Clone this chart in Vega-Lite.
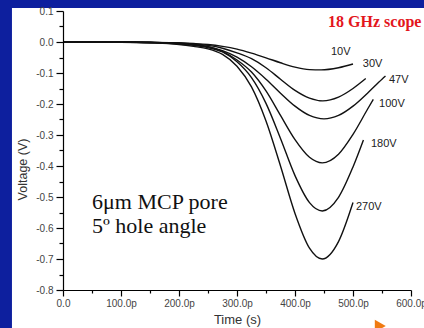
{
  "$schema": "https://vega.github.io/schema/vega-lite/v6.json",
  "width": 348,
  "height": 279,
  "autosize": {"type": "none"},
  "padding": {"left": 63, "top": 11, "right": 13, "bottom": 38},
  "background": "#0d1f9e",
  "config": {"view": {"stroke": null, "fill": "white"}},
  "datasets": {
    "panel": [{"t": -88, "t2": 650, "v": 0.11, "v2": -0.95}],
    "curves": [
      {"s": "10V", "t": 0, "v": 0}, {"s": "10V", "t": 100, "v": 0}, {"s": "10V", "t": 150, "v": -0.001}, {"s": "10V", "t": 200, "v": -0.003}, {"s": "10V", "t": 225, "v": -0.005}, {"s": "10V", "t": 250, "v": -0.008}, {"s": "10V", "t": 275, "v": -0.014}, {"s": "10V", "t": 300, "v": -0.023}, {"s": "10V", "t": 325, "v": -0.036}, {"s": "10V", "t": 350, "v": -0.051}, {"s": "10V", "t": 375, "v": -0.067}, {"s": "10V", "t": 400, "v": -0.081}, {"s": "10V", "t": 425, "v": -0.089}, {"s": "10V", "t": 445, "v": -0.09}, {"s": "10V", "t": 475, "v": -0.083}, {"s": "10V", "t": 500, "v": -0.071},
      {"s": "30V", "t": 0, "v": 0}, {"s": "30V", "t": 100, "v": 0}, {"s": "30V", "t": 150, "v": -0.001}, {"s": "30V", "t": 200, "v": -0.003}, {"s": "30V", "t": 225, "v": -0.006}, {"s": "30V", "t": 250, "v": -0.011}, {"s": "30V", "t": 275, "v": -0.02}, {"s": "30V", "t": 300, "v": -0.035}, {"s": "30V", "t": 325, "v": -0.054}, {"s": "30V", "t": 350, "v": -0.083}, {"s": "30V", "t": 375, "v": -0.12}, {"s": "30V", "t": 400, "v": -0.156}, {"s": "30V", "t": 425, "v": -0.181}, {"s": "30V", "t": 448, "v": -0.19}, {"s": "30V", "t": 475, "v": -0.178}, {"s": "30V", "t": 500, "v": -0.15}, {"s": "30V", "t": 522, "v": -0.118},
      {"s": "47V", "t": 0, "v": 0}, {"s": "47V", "t": 100, "v": 0}, {"s": "47V", "t": 150, "v": -0.001}, {"s": "47V", "t": 200, "v": -0.004}, {"s": "47V", "t": 225, "v": -0.008}, {"s": "47V", "t": 250, "v": -0.015}, {"s": "47V", "t": 275, "v": -0.028}, {"s": "47V", "t": 300, "v": -0.049}, {"s": "47V", "t": 325, "v": -0.08}, {"s": "47V", "t": 350, "v": -0.12}, {"s": "47V", "t": 375, "v": -0.165}, {"s": "47V", "t": 400, "v": -0.207}, {"s": "47V", "t": 425, "v": -0.237}, {"s": "47V", "t": 450, "v": -0.248}, {"s": "47V", "t": 475, "v": -0.237}, {"s": "47V", "t": 500, "v": -0.207}, {"s": "47V", "t": 525, "v": -0.165}, {"s": "47V", "t": 550, "v": -0.12}, {"s": "47V", "t": 556, "v": -0.11},
      {"s": "100V", "t": 0, "v": 0}, {"s": "100V", "t": 100, "v": 0}, {"s": "100V", "t": 150, "v": -0.002}, {"s": "100V", "t": 200, "v": -0.005}, {"s": "100V", "t": 225, "v": -0.009}, {"s": "100V", "t": 250, "v": -0.015}, {"s": "100V", "t": 275, "v": -0.03}, {"s": "100V", "t": 300, "v": -0.058}, {"s": "100V", "t": 325, "v": -0.097}, {"s": "100V", "t": 350, "v": -0.158}, {"s": "100V", "t": 375, "v": -0.237}, {"s": "100V", "t": 400, "v": -0.315}, {"s": "100V", "t": 425, "v": -0.372}, {"s": "100V", "t": 447, "v": -0.39}, {"s": "100V", "t": 475, "v": -0.362}, {"s": "100V", "t": 500, "v": -0.298}, {"s": "100V", "t": 525, "v": -0.217}, {"s": "100V", "t": 535, "v": -0.185},
      {"s": "180V", "t": 0, "v": 0}, {"s": "180V", "t": 100, "v": -0.001}, {"s": "180V", "t": 150, "v": -0.002}, {"s": "180V", "t": 200, "v": -0.007}, {"s": "180V", "t": 225, "v": -0.011}, {"s": "180V", "t": 250, "v": -0.018}, {"s": "180V", "t": 275, "v": -0.032}, {"s": "180V", "t": 300, "v": -0.064}, {"s": "180V", "t": 325, "v": -0.115}, {"s": "180V", "t": 350, "v": -0.198}, {"s": "180V", "t": 375, "v": -0.311}, {"s": "180V", "t": 400, "v": -0.431}, {"s": "180V", "t": 425, "v": -0.518}, {"s": "180V", "t": 447, "v": -0.545}, {"s": "180V", "t": 475, "v": -0.501}, {"s": "180V", "t": 500, "v": -0.403}, {"s": "180V", "t": 518, "v": -0.316},
      {"s": "270V", "t": 0, "v": 0}, {"s": "270V", "t": 100, "v": -0.001}, {"s": "270V", "t": 150, "v": -0.003}, {"s": "270V", "t": 200, "v": -0.008}, {"s": "270V", "t": 225, "v": -0.014}, {"s": "270V", "t": 250, "v": -0.022}, {"s": "270V", "t": 275, "v": -0.04}, {"s": "270V", "t": 300, "v": -0.078}, {"s": "270V", "t": 325, "v": -0.145}, {"s": "270V", "t": 350, "v": -0.255}, {"s": "270V", "t": 375, "v": -0.4}, {"s": "270V", "t": 400, "v": -0.553}, {"s": "270V", "t": 425, "v": -0.665}, {"s": "270V", "t": 447, "v": -0.7}, {"s": "270V", "t": 475, "v": -0.644}, {"s": "270V", "t": 500, "v": -0.518}
    ],
    "labels": [
      {"t": 462, "v": -0.032, "label": "10V"},
      {"t": 517, "v": -0.071, "label": "30V"},
      {"t": 562, "v": -0.123, "label": "47V"},
      {"t": 545, "v": -0.2, "label": "100V"},
      {"t": 531, "v": -0.33, "label": "180V"},
      {"t": 505, "v": -0.532, "label": "270V"}
    ],
    "scope": [{"t": 457, "v": 0.064, "label": "18 GHz scope"}],
    "notes": [
      {"t": 50, "v": -0.516, "label": "6μm MCP pore"},
      {"t": 50, "v": -0.594, "label": "5º hole angle"}
    ],
    "arrow": [{"t": 547, "v": -0.916}]
  },
  "encoding": {
    "x": {
      "field": "t", "type": "quantitative",
      "scale": {"domain": [0, 600], "nice": false, "zero": false},
      "axis": {
        "title": "Time (s)", "zindex": 1, "grid": false,
        "values": [0, 50, 100, 150, 200, 250, 300, 350, 400, 450, 500, 550, 600],
        "labelExpr": "datum.value % 100 == 0 ? (datum.value == 0 ? '0.0' : format(datum.value, '.1f') + 'p') : ''",
        "tickSize": {"condition": {"test": "datum.value % 100 == 0", "value": 6}, "value": 3},
        "domainColor": "#000", "tickColor": "#000", "domainWidth": 1.2, "tickWidth": 1.2,
        "labelFont": "Liberation Sans", "labelFontSize": 10, "labelColor": "#444", "labelPadding": 2,
        "labelOverlap": false, "labelFlush": false, "labelBound": false,
        "titleFont": "Liberation Sans", "titleFontSize": 13, "titleFontWeight": "normal", "titleColor": "#333", "titlePadding": 5
      }
    },
    "y": {
      "field": "v", "type": "quantitative",
      "scale": {"domain": [-0.8, 0.1], "nice": false, "zero": false},
      "axis": {
        "title": "Voltage (V)", "zindex": 1, "grid": false,
        "values": [0.1, 0.05, 0, -0.05, -0.1, -0.15, -0.2, -0.25, -0.3, -0.35, -0.4, -0.45, -0.5, -0.55, -0.6, -0.65, -0.7, -0.75, -0.8],
        "labelExpr": "abs(datum.value * 10 - round(datum.value * 10)) < 0.01 ? (datum.value < -0.001 ? '-' + format(-datum.value, '.1f') : format(abs(datum.value), '.1f')) : ''",
        "tickSize": {"condition": {"test": "abs(datum.value * 10 - round(datum.value * 10)) < 0.01", "value": 7}, "value": 4},
        "domainColor": "#000", "tickColor": "#000", "domainWidth": 1.2, "tickWidth": 1.2,
        "labelFont": "Liberation Sans", "labelFontSize": 10, "labelColor": "#444", "labelPadding": 3,
        "labelOverlap": false, "labelFlush": false, "labelBound": false,
        "titleFont": "Liberation Sans", "titleFontSize": 12.5, "titleFontWeight": "normal", "titleColor": "#333",
        "titleX": -41, "titleY": 158, "titleBaseline": "middle", "titleAlign": "center"
      }
    }
  },
  "layer": [
    {
      "data": {"name": "panel"},
      "mark": {"type": "rect", "color": "white", "clip": false},
      "encoding": {"x2": {"field": "t2"}, "y2": {"field": "v2"}}
    },
    {
      "data": {"name": "curves"},
      "mark": {"type": "line", "interpolate": "monotone", "color": "#111", "strokeWidth": 1.4},
      "encoding": {"detail": {"field": "s"}}
    },
    {
      "data": {"name": "labels"},
      "mark": {"type": "text", "align": "left", "baseline": "middle", "font": "Liberation Sans", "fontSize": 11, "color": "#222", "clip": false},
      "encoding": {"text": {"field": "label"}}
    },
    {
      "data": {"name": "scope"},
      "mark": {"type": "text", "align": "left", "baseline": "middle", "font": "Liberation Serif", "fontWeight": "bold", "fontSize": 16, "color": "#e3161c", "clip": false},
      "encoding": {"text": {"field": "label"}}
    },
    {
      "data": {"name": "notes"},
      "mark": {"type": "text", "align": "left", "baseline": "middle", "font": "Liberation Serif", "fontSize": 22, "color": "#111", "clip": false},
      "encoding": {"text": {"field": "label"}}
    },
    {
      "data": {"name": "arrow"},
      "mark": {"type": "point", "shape": "triangle-right", "filled": true, "color": "#f07a12", "size": 160, "opacity": 1, "clip": false},
      "encoding": {}
    }
  ]
}
